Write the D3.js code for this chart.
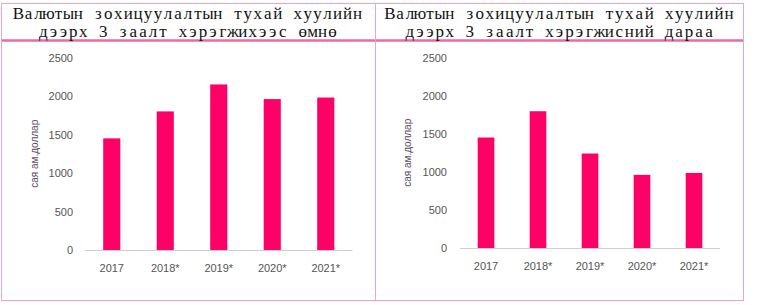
<!DOCTYPE html>
<html><head><meta charset="utf-8">
<script src="https://cdn.jsdelivr.net/npm/d3@7"></script>
<style>body{margin:0;background:#fff}svg{display:block}</style>
</head><body>
<svg id="c" width="757" height="305"></svg>
<script>
const categories = ["2017","2018*","2019*","2020*","2021*"];
const beforeValues = [1450, 1800, 2150, 1960, 1980];
const afterValues = [1450, 1795, 1240, 960, 985];
const yTicks = [0, 500, 1000, 1500, 2000, 2500];
const titleLine1 = "Валютын зохицуулалтын тухай хуулийн";
const titleBefore = "дээрх 3 заалт хэрэгжихээс өмнө";
const titleAfter = "дээрх 3 заалт хэрэгжисний дараа";
const yLabel = "сая ам.доллар";

const svg = d3.select("#c");
const pink = "#f2a3c2", pinkDark = "#ef6a9f", barColor = "#ff0066";

// table frame
const frame = svg.append("g");
frame.append("line").attr("x1",1).attr("x2",743.5).attr("y1",3.5).attr("y2",3.5).attr("stroke",pink);
frame.append("line").attr("x1",1).attr("x2",744).attr("y1",40.5).attr("y2",40.5).attr("stroke",pinkDark).attr("stroke-width",2.5);
frame.append("line").attr("x1",1.5).attr("x2",1.5).attr("y1",3).attr("y2",301).attr("stroke",pink);
frame.append("line").attr("x1",375.5).attr("x2",375.5).attr("y1",3).attr("y2",301).attr("stroke",pink);
frame.append("line").attr("x1",743.5).attr("x2",743.5).attr("y1",3).attr("y2",301).attr("stroke",pink);
frame.append("line").attr("x1",1).attr("x2",744).attr("y1",300.5).attr("y2",300.5).attr("stroke",pink);

// monospaced-pitch serif title (mimics Courier New)
function monoLine(parent, str, cx, y, pitch) {
  const chars = Array.from(str);
  const start = cx - chars.length * pitch / 2;
  const xs = chars.map((c,i) => (start + pitch*(i+0.5)).toFixed(2)).join(" ");
  parent.append("tspan").attr("x", xs).attr("y", y).text(str);
}

function panel(cx, sub, values, x0, x1, yTop, yBot, labelX, axisLabelX) {
  const t = svg.append("text").attr("font-family","'Liberation Serif','Times New Roman',serif")
    .attr("font-size",17).attr("fill","#111").attr("text-anchor","middle");
  monoLine(t, titleLine1, cx, 19, 9.97);
  monoLine(t, sub, cx, 37, 9.97);

  const x = d3.scaleBand().domain(categories).range([x0,x1]).paddingInner(0.68).paddingOuter(0.34);
  const y = d3.scaleLinear().domain([0,2500]).range([yBot,yTop]);
  const g = svg.append("g").attr("font-family","Arial,'Liberation Sans',sans-serif");

  const ya = d3.axisLeft(y).tickValues(yTicks).tickSize(0).tickPadding(0).tickFormat(d3.format("d"));
  const yg = g.append("g").attr("transform",`translate(${labelX},0)`).call(ya);
  yg.select(".domain").remove();
  yg.selectAll("text").attr("fill","#555").attr("font-size",11);

  g.selectAll("rect.bar").data(values).enter().append("rect")
    .attr("x",(d,i)=>x(categories[i])).attr("width",x.bandwidth())
    .attr("y",d=>y(d)).attr("height",d=>yBot-y(d)).attr("fill",barColor);

  const xa = d3.axisBottom(x).tickSize(0).tickPadding(14);
  const xg = g.append("g").attr("transform",`translate(0,${yBot})`).call(xa);
  xg.select(".domain").attr("stroke","#cfcfcf").attr("d",`M${x0},0.5H${x1}`);
  xg.selectAll("text").attr("fill","#555").attr("font-size",11);

  g.append("text").attr("transform",`translate(${axisLabelX},${(yTop+yBot)/2}) rotate(-90)`)
    .attr("text-anchor","middle").attr("font-size",10).attr("fill","#5b4d66").text(yLabel);
}

panel(188, titleBefore, beforeValues, 85, 352.5, 57.5, 250, 73, 38);
panel(559.5, titleAfter, afterValues, 460, 720, 57.5, 248, 447, 411);
</script>
</body></html>
